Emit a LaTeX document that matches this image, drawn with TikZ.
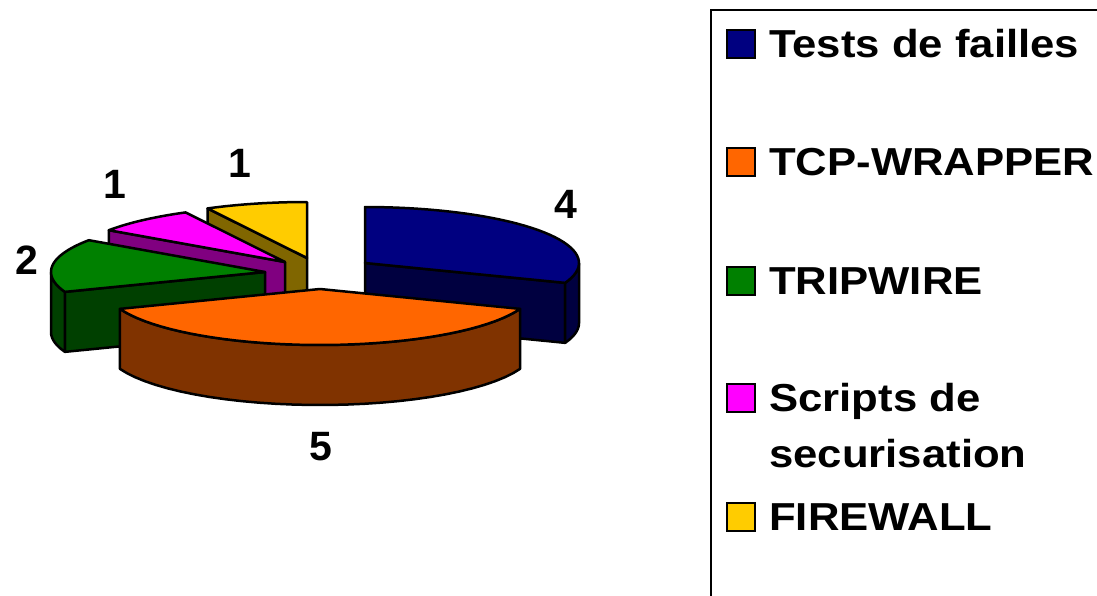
\documentclass[tikz,border=0pt]{standalone}
\usepackage{fontspec}
\setmainfont{Liberation Sans}
\newfontfamily\legfont{Liberation Sans}[FakeStretch=1.12]
\usetikzlibrary{positioning}
\definecolor{failles}{HTML}{000080}
\definecolor{faillesside}{HTML}{000040}
\definecolor{wrapper}{HTML}{FF6600}
\definecolor{wrapperside}{HTML}{803300}
\definecolor{tripwire}{HTML}{008000}
\definecolor{tripwireside}{HTML}{004000}
\definecolor{scripts}{HTML}{FF00FF}
\definecolor{scriptsside}{HTML}{800080}
\definecolor{firewall}{HTML}{FFCC00}
\definecolor{firewallside}{HTML}{806600}
\tikzset{
  slice/.style={draw=black, line width=2.5pt, line join=round},
  swatch/.style={draw=black, line width=2pt, minimum width=28pt, minimum height=28pt, inner sep=0pt},
  legtext/.style={font=\legfont\bfseries\fontsize{39}{47}\selectfont, inner sep=0pt, text height=27.9pt, text depth=0pt},
  pielabel/.style={font=\bfseries\fontsize{41}{49}\selectfont, inner sep=0pt, text height=29.4pt, text depth=0pt}
}
\newcommand{\slicetop}[5]{\filldraw[slice, fill=#5] (#1,#2) -- plot[domain=#3:#4, samples=40] ({#1+214*cos(\x)},{#2-56*sin(\x)}) -- cycle;}
\newcommand{\slicerim}[5]{\filldraw[slice, fill=#5] plot[domain=#3:#4, samples=30] ({#1+214*cos(\x)},{#2-56*sin(\x)}) -- plot[domain=#4:#3, samples=30] ({#1+214*cos(\x)},{#2+60-56*sin(\x)}) -- cycle;}
\newcommand{\slicewall}[4]{\filldraw[slice, fill=#4] (#1,#2) -- ({#1+214*cos(#3)},{#2-56*sin(#3)}) -- ++(0,60) -- ({#1},{#2+60}) -- cycle;}
\begin{document}
\begin{tikzpicture}[x=1pt, y=-1pt]
\useasboundingbox (0,0) rectangle (1097,595);
\fill[white] (0,0) rectangle (1097,595);
\slicewall{307}{258}{117.692}{firewallside}
\slicetop{307}{258}{90}{117.692}{firewall}
\slicewall{285}{262}{145.385}{scriptsside}
\slicetop{285}{262}{117.692}{145.385}{scripts}
\slicewall{265}{272}{200.769}{tripwireside}
\slicerim{265}{272}{180}{200.769}{tripwireside}
\slicetop{265}{272}{145.385}{200.769}{tripwire}
\slicewall{365}{263}{-20.769}{faillesside}
\slicerim{365}{263}{-20.769}{0}{faillesside}
\slicetop{365}{263}{-20.769}{90}{failles}
\slicerim{320}{289}{200.769}{339.231}{wrapperside}
\slicetop{320}{289}{200.769}{339.231}{wrapper}
\node[pielabel] (lblfailles) at (566,204) {4};
\node[pielabel] (lblwrapper) at (321,446) {5};
\node[pielabel] (lbltripwire) at (27,260) {2};
\node[pielabel] (lblscripts) at (115,184) {1};
\node[pielabel] (lblfirewall) at (240,163) {1};
\draw[line width=2pt] (1110,10) -| (711,610);
\node[swatch, fill=failles] (swfailles) at (741,44) {};
\node[swatch, fill=wrapper] (swwrapper) at (741,162) {};
\node[swatch, fill=tripwire] (swtripwire) at (741,281) {};
\node[swatch, fill=scripts] (swscripts) at (741,398) {};
\node[swatch, fill=firewall] (swfirewall) at (741,517) {};
\node[legtext, right=13pt of swfailles] (legfailles) {Tests de failles};
\node[legtext, right=13pt of swwrapper] (legwrapper) {TCP-WRAPPER};
\node[legtext, right=13pt of swtripwire] (legtripwire) {TRIPWIRE};
\node[legtext, right=13pt of swscripts] (legscripts) {Scripts de};
\node[legtext, anchor=base west] (legscriptsb) at (legscripts.base west |- 0,467) {securisation};
\node[legtext, right=13pt of swfirewall] (legfirewall) {FIREWALL};
\end{tikzpicture}
\end{document}
